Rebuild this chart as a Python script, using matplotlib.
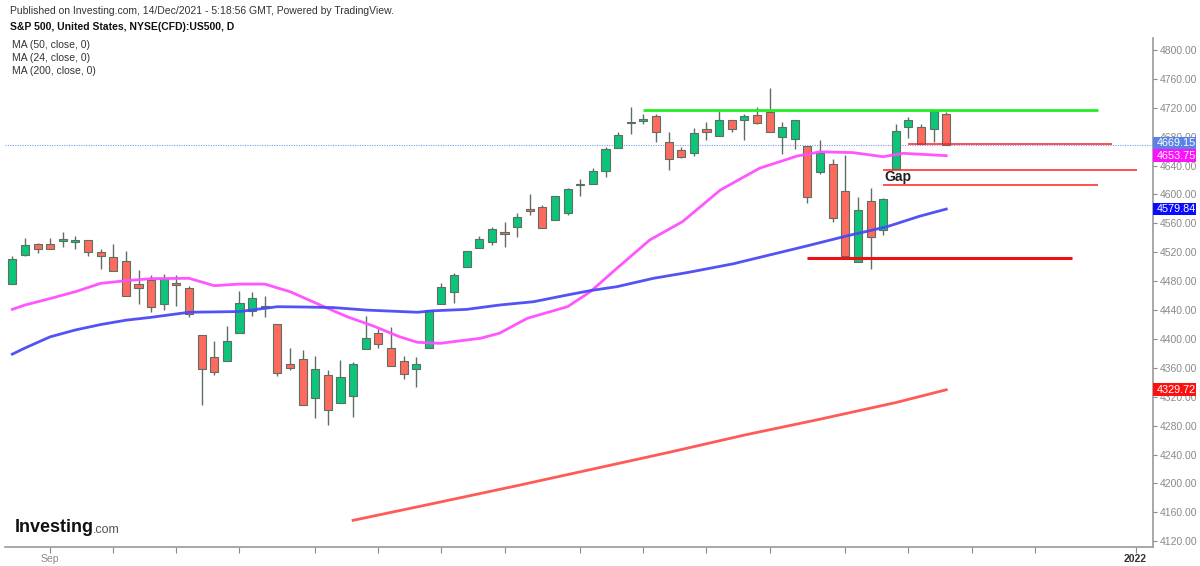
import matplotlib
matplotlib.use("Agg")
import matplotlib.pyplot as plt
from matplotlib.patches import Rectangle

plt.rcParams['font.family'] = ['Liberation Sans', 'DejaVu Sans']

# daily candles (index 0 = first candle on the left)
opens = [4476, 4516, 4531, 4531, 4536, 4534, 4537, 4520, 4514, 4508,
         4476, 4481, 4448, 4478, 4471, 4405, 4375, 4369, 4408, 4439,
         4443, 4421, 4365, 4372, 4319, 4350, 4311, 4321, 4386, 4408,
         4387, 4370, 4359, 4388, 4449, 4465, 4499, 4526, 4534, 4548,
         4555, 4580, 4582, 4565, 4574, 4613, 4615, 4632, 4665, 4701,
         4702, 4709, 4673, 4662, 4657, 4691, 4681, 4703, 4703, 4710,
         4714, 4680, 4677, 4667, 4631, 4642, 4605, 4507, 4591, 4551,
         4635, 4693, 4693, 4690, 4711]
highs = [4515, 4540, 4533, 4540, 4548, 4543, 4537, 4525, 4531, 4522,
         4495, 4488, 4490, 4488, 4474, 4405, 4397, 4418, 4467, 4465,
         4460, 4421, 4387, 4385, 4376, 4357, 4371, 4368, 4432, 4414,
         4417, 4377, 4375, 4440, 4477, 4491, 4522, 4543, 4555, 4562,
         4575, 4600, 4586, 4598, 4609, 4621, 4636, 4666, 4686, 4721,
         4712, 4711, 4687, 4666, 4692, 4700, 4717, 4703, 4711, 4721,
         4747, 4701, 4703, 4667, 4675, 4649, 4655, 4597, 4609, 4595,
         4697, 4707, 4698, 4715, 4714]
lows = [4476, 4515, 4519, 4524, 4528, 4525, 4515, 4497, 4494, 4460,
        4448, 4437, 4440, 4446, 4430, 4309, 4350, 4369, 4408, 4432,
        4430, 4349, 4357, 4309, 4290, 4281, 4311, 4292, 4386, 4388,
        4363, 4345, 4333, 4388, 4449, 4450, 4499, 4526, 4530, 4527,
        4541, 4572, 4553, 4565, 4572, 4598, 4615, 4624, 4665, 4684,
        4698, 4673, 4634, 4650, 4653, 4675, 4681, 4687, 4675, 4697,
        4686, 4656, 4663, 4588, 4628, 4562, 4515, 4507, 4497, 4544,
        4635, 4678, 4670, 4672, 4669]
closes = [4511, 4530, 4525, 4525, 4538, 4537, 4521, 4515, 4494, 4460,
          4470, 4444, 4483, 4475, 4435, 4359, 4355, 4397, 4450, 4457,
          4445, 4353, 4360, 4309, 4358, 4302, 4348, 4365, 4401, 4393,
          4363, 4352, 4365, 4440, 4472, 4489, 4522, 4538, 4552, 4546,
          4569, 4577, 4553, 4598, 4607, 4615, 4632, 4663, 4682, 4699,
          4704, 4687, 4649, 4652, 4685, 4686, 4703, 4690, 4709, 4699,
          4686, 4693, 4703, 4596, 4657, 4568, 4515, 4578, 4541, 4594,
          4688, 4703, 4670, 4715, 4669.15]

# moving averages at some candles
ma50_idx = [0, 1, 3, 5, 7, 9, 11, 14, 18, 21, 23, 25.4, 28.1, 32.1, 33.3,
            36, 38.6, 41.3, 44, 45.8, 47.9, 50.8, 53.5, 57.1, 60, 63,
            66.1, 69.3, 71.9, 74]
ma50_val = [4379, 4387.5, 4403, 4412.5, 4420, 4426, 4430, 4437, 4438,
            4444.7, 4444.3, 4443.5, 4440, 4437, 4439, 4441, 4447, 4451.6,
            4461, 4467, 4472.4, 4484, 4492, 4504, 4516.3, 4529, 4542.6,
            4555.4, 4570, 4579.84]
ma24_idx = [0, 1, 3, 5, 7, 9, 11, 14, 16, 18, 20, 22, 24.4, 26.5, 28.6,
            30.7, 32.1, 33.9, 37.1, 38.6, 40.8, 44, 45.8, 47.9, 50.5,
            53.1, 56.1, 59.2, 62.2, 64, 66.6, 69, 70.6, 74]
ma24_val = [4441, 4447, 4456, 4465.5, 4477, 4480.7, 4483.5, 4484, 4473.8,
            4476, 4476, 4465.5, 4447, 4431, 4418, 4403, 4395.4, 4394, 4401,
            4408, 4428.6, 4444.8, 4465.5, 4497.8, 4537, 4562.4, 4606.2,
            4636.3, 4653.3, 4659, 4658, 4652.3, 4657, 4653.75]
ma200_idx = [27, 33, 40, 46, 52, 58, 64, 70, 74]
ma200_val = [4149, 4171, 4197, 4220, 4243, 4267, 4289, 4312, 4329.72]

# drawn levels: (price, first candle, last candle)
green_level = (4717, 50, 86)
support_level = (4512.5, 63, 84)
thin_levels = [(4669.5, 71, 87.1), (4634, 69, 89.1), (4613, 69, 86)]

tick_idx = [3, 8, 13, 18, 24, 29, 34, 39, 45, 50, 55, 60, 66, 71, 76, 81, 89]
tick_lbl = ["Sep"] + [""] * 15 + ["2022"]
y_ticks = list(range(4120, 4801, 40))

last_price = 4669.15
axis_labels = [(last_price, "#5b82e6"), (4653.75, "#ff10ff"),
               (4579.84, "#0a0aff"), (4329.72, "#ff1010")]

GREEN = "#0cc47a"
RED = "#ff6a5e"
EDGE = "#5d6e62"
GREY = "#8a8a8a"

fig = plt.figure(figsize=(12, 5.66), dpi=100)
ax = fig.add_axes([5 / 1200, 1 - 547 / 566, 1148 / 1200, 509 / 566])

# candles
for i in range(len(opens)):
    o, h, l, c = opens[i], highs[i], lows[i], closes[i]
    col = GREEN if c >= o else RED
    ax.vlines(i, l, h, color=EDGE, lw=1, zorder=2)
    body = max(abs(c - o), 1.6)
    ax.bar(i, body, bottom=min(o, c), width=0.64, color=col,
           edgecolor=EDGE, linewidth=0.8, zorder=3)

# moving averages
ax.plot(ma24_idx, ma24_val, color="#ff4dff", lw=2, zorder=4, alpha=0.95)
ax.plot(ma50_idx, ma50_val, color="#4a4af5", lw=2, zorder=4, alpha=0.95)
ax.plot(ma200_idx, ma200_val, color="#ff5a55", lw=2, zorder=4)

# price line
ax.axhline(last_price, color="#7b9ef2", lw=0.8, ls=(0, (1, 1.2)), zorder=1)

# levels
ax.hlines(green_level[0], green_level[1], green_level[2], color="#22ee22",
          lw=2, zorder=5)
ax.hlines(support_level[0], support_level[1], support_level[2],
          color="#ee1111", lw=2.2, zorder=5)
for p, a, b in thin_levels:
    ax.hlines(p, a, b, color="#ff2020", lw=1.1, zorder=5)
ax.text(69.1, 4624, "Gap", fontsize=10, fontweight="bold", color="#222222",
        ha="left", va="center", zorder=6)

ax.set_xlim(-0.58, 90.38)
ax.set_ylim(4112.1, 4816.6)

ax.yaxis.tick_right()
ax.set_yticks(y_ticks)
ax.set_yticklabels([f"{v:.2f}" for v in y_ticks])
ax.set_xticks(tick_idx)
ax.set_xticklabels(tick_lbl)
ax.tick_params(axis="y", colors=GREY, labelsize=7.5, length=3, width=0.8,
               pad=2)
ax.tick_params(axis="x", colors=GREY, labelsize=7.5, length=4, width=0.8,
               pad=1)
for lab in ax.get_xticklabels():
    if lab.get_text() == "2022":
        lab.set_color("#333333")
        lab.set_fontweight("bold")
for s in ["left", "top"]:
    ax.spines[s].set_visible(False)
for s in ["right", "bottom"]:
    ax.spines[s].set_color("#9a9a9a")
    ax.spines[s].set_linewidth(1.2)

# value labels on the price axis (the top one is nudged up so the two
# neighbouring boxes sit edge to edge like in the original)
tr = ax.get_yaxis_transform()
for val, col in axis_labels:
    yc = val + 2.2 if val == last_price else val
    ax.add_patch(Rectangle((1.0, yc - 8.7), 0.0375, 17.4, transform=tr,
                           fc=col, ec="none", clip_on=False, zorder=9))
    ax.text(1.0035, yc, f"{val:.2f}", transform=tr, fontsize=7.8,
            color="white", ha="left", va="center", clip_on=False, zorder=10)

# header text
fig.text(10 / 1200, 1 - 11 / 566,
         "Published on Investing.com, 14/Dec/2021 - 5:18:56 GMT, Powered by TradingView.",
         fontsize=7.5, color="#333333", va="center")
fig.text(10 / 1200, 1 - 27 / 566, "S&P 500, United States, NYSE(CFD):US500, D",
         fontsize=7.5, fontweight="bold", color="#111111", va="center")
for k, t in enumerate(["MA (50, close, 0)", "MA (24, close, 0)",
                       "MA (200, close, 0)"]):
    fig.text(12 / 1200, 1 - (45 + 13 * k) / 566, t, fontsize=7.5,
             color="#333333", va="center")

# logo
fig.text(15 / 1200, 1 - 528 / 566, "Investing", fontsize=13,
         fontweight="bold", color="#111111", va="center")
fig.text(93 / 1200, 1 - 530 / 566, ".com", fontsize=9, color="#555555",
         va="center")

fig.savefig("out.png", dpi=100, facecolor="white")
